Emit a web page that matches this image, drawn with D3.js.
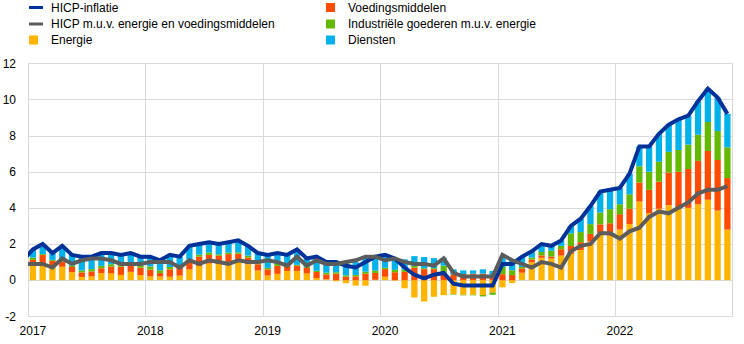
<!DOCTYPE html>
<html>
<head>
<meta charset="utf-8">
<script src="https://cdn.jsdelivr.net/npm/d3@7"></script>
<style>
  body { margin: 0; background: #fff; }
  svg { display: block; font-family: "Liberation Sans", Arial, sans-serif; }
</style>
</head>
<body>
<svg id="chart" width="744" height="344"></svg>
<script>
// Euro area HICP inflation and contributions of its main components
// (annual percentage changes / percentage points), Jan 2017 - Dec 2022.

const years = [2017, 2018, 2019, 2020, 2021, 2022];
const yTicks = [-2, 0, 2, 4, 6, 8, 10, 12];

// Contributions, one value per month
const energie = [
  0.79, 0.90, 0.72, 0.74, 0.44, 0.18, 0.21, 0.39, 0.38, 0.29, 0.46, 0.28,
  0.21, 0.20, 0.19, 0.25, 0.59, 0.78, 0.92, 0.89, 0.92, 1.04, 0.88, 0.53,
  0.26, 0.35, 0.51, 0.51, 0.37, 0.12, 0.05, -0.06, -0.17, -0.30, -0.31, 0.02,
  0.19, -0.03, -0.45, -0.96, -1.18, -0.92, -0.83, -0.77, -0.81, -0.81, -0.82, -0.68,
  -0.40, -0.16, 0.41, 0.99, 1.24, 1.20, 1.36, 1.46, 1.67, 2.15, 2.61, 2.46,
  2.80, 3.10, 4.35, 3.70, 3.95, 4.15, 3.95, 4.00, 4.20, 4.45, 3.85, 2.80
];
const voedingsmiddelen = [
  0.33, 0.49, 0.35, 0.29, 0.29, 0.25, 0.27, 0.27, 0.37, 0.45, 0.43, 0.41,
  0.37, 0.19, 0.41, 0.50, 0.48, 0.52, 0.48, 0.46, 0.52, 0.42, 0.37, 0.35,
  0.34, 0.44, 0.29, 0.29, 0.31, 0.33, 0.27, 0.36, 0.19, 0.21, 0.36, 0.38,
  0.42, 0.44, 0.46, 0.69, 0.61, 0.61, 0.38, 0.32, 0.34, 0.36, 0.36, 0.25,
  0.33, 0.28, 0.24, 0.15, 0.13, 0.11, 0.35, 0.43, 0.43, 0.41, 0.48, 0.69,
  0.85, 0.85, 1.05, 1.30, 1.50, 1.80, 2.05, 2.15, 2.40, 2.70, 2.80, 2.85
];
const industrie = [
  0.13, 0.05, 0.05, 0.08, 0.08, 0.11, 0.13, 0.13, 0.13, 0.11, 0.11, 0.13,
  0.18, 0.16, 0.13, 0.08, 0.08, 0.11, 0.13, 0.08, 0.08, 0.08, 0.11, 0.11,
  0.08, 0.11, 0.05, 0.05, 0.08, 0.07, 0.10, 0.08, 0.08, 0.08, 0.11, 0.13,
  0.08, 0.13, 0.13, 0.10, 0.05, 0.05, 0.42, -0.03, -0.03, -0.03, -0.08, -0.13,
  0.40, 0.27, 0.08, 0.11, 0.19, 0.32, 0.19, 0.70, 0.56, 0.54, 0.65, 0.78,
  0.55, 0.80, 0.90, 1.00, 1.10, 1.15, 1.20, 1.35, 1.45, 1.60, 1.60, 1.70
];
const diensten = [
  0.45, 0.56, 0.38, 0.79, 0.59, 0.76, 0.69, 0.71, 0.62, 0.55, 0.50, 0.48,
  0.54, 0.55, 0.67, 0.47, 0.75, 0.59, 0.57, 0.57, 0.58, 0.66, 0.54, 0.51,
  0.72, 0.60, 0.55, 0.85, 0.44, 0.78, 0.58, 0.62, 0.70, 0.71, 0.84, 0.77,
  0.71, 0.66, 0.56, 0.54, 0.62, 0.56, 0.43, 0.28, 0.20, 0.18, 0.24, 0.26,
  0.57, 0.51, 0.57, 0.35, 0.44, 0.27, 0.30, 0.41, 0.74, 1.00, 1.16, 1.07,
  0.90, 1.15, 1.10, 1.40, 1.55, 1.50, 1.70, 1.60, 1.85, 1.85, 1.85, 1.85
];

// Rates for the two lines; the first value is December 2016
const hicp = [
  1.1,
  1.7, 2.0, 1.5, 1.9, 1.4, 1.3, 1.3, 1.5, 1.5, 1.4, 1.5, 1.3,
  1.3, 1.1, 1.4, 1.3, 1.9, 2.0, 2.1, 2.0, 2.1, 2.2, 1.9, 1.5,
  1.4, 1.5, 1.4, 1.7, 1.2, 1.3, 1.0, 1.0, 0.8, 0.7, 1.0, 1.3,
  1.4, 1.2, 0.7, 0.3, 0.1, 0.3, 0.4, -0.2, -0.3, -0.3, -0.3, -0.3,
  0.9, 0.9, 1.3, 1.6, 2.0, 1.9, 2.2, 3.0, 3.4, 4.1, 4.9, 5.0,
  5.1, 5.9, 7.4, 7.4, 8.1, 8.6, 8.9, 9.1, 9.9, 10.6, 10.1, 9.2
];
const kern = [
  0.9,
  0.9, 0.9, 0.7, 1.2, 0.9, 1.1, 1.2, 1.2, 1.1, 0.9, 0.9, 0.9,
  1.0, 1.0, 1.0, 0.7, 1.1, 0.9, 1.1, 1.0, 0.9, 1.1, 1.0, 1.0,
  1.1, 1.0, 0.8, 1.3, 0.8, 1.1, 0.9, 0.9, 1.0, 1.1, 1.3, 1.3,
  1.1, 1.2, 1.0, 0.9, 0.9, 0.8, 1.2, 0.4, 0.2, 0.2, 0.2, 0.2,
  1.4, 1.1, 0.9, 0.7, 1.0, 0.9, 0.7, 1.6, 1.9, 2.0, 2.6, 2.6,
  2.3, 2.7, 2.9, 3.5, 3.8, 3.7, 4.0, 4.3, 4.8, 5.0, 5.0, 5.2
];

const componentKeys = ["energie", "voedingsmiddelen", "industrie", "diensten"];
const componentColors = {
  energie: "#FFB400",
  voedingsmiddelen: "#FF4B00",
  industrie: "#65B800",
  diensten: "#00B1EA"
};
const lineColors = { hicp: "#003299", kern: "#5C5C5C" };

const nMonths = energie.length;
const table = d3.range(nMonths).map(i => ({
  i,
  energie: energie[i],
  voedingsmiddelen: voedingsmiddelen[i],
  industrie: industrie[i],
  diensten: diensten[i]
}));

const svg = d3.select("#chart");
const plot = { left: 28, right: 732.3, top: 63.3, bottom: 316.3 };

const x = d3.scaleLinear().domain([0, nMonths]).range([plot.left, plot.right]);
const y = d3.scaleLinear().domain([-2, 12]).range([plot.bottom, plot.top]);

// Grid
const grid = svg.append("g").attr("stroke", "#d9d9d9").attr("stroke-width", 1);
grid.selectAll("line.h").data(yTicks).join("line")
  .attr("class", "h")
  .attr("x1", plot.left).attr("x2", plot.right)
  .attr("y1", d => Math.round(y(d)) + 0.5).attr("y2", d => Math.round(y(d)) + 0.5);
grid.selectAll("line.v").data(d3.range(0, nMonths + 1, 12)).join("line")
  .attr("class", "v")
  .attr("x1", d => Math.round(x(d)) + 0.5).attr("x2", d => Math.round(x(d)) + 0.5)
  .attr("y1", plot.top).attr("y2", plot.bottom);

// Y axis labels
svg.append("g").selectAll("text").data(yTicks).join("text")
  .attr("x", 16).attr("y", d => y(d))
  .attr("dy", "0.35em")
  .attr("text-anchor", "end")
  .attr("font-size", 12).attr("fill", "#000")
  .text(d => d);

// X axis labels, one per year at its January
svg.append("g").selectAll("text").data(years).join("text")
  .attr("x", (d, k) => x(k * 12 + 0.5))
  .attr("y", 335)
  .attr("text-anchor", "middle")
  .attr("font-size", 12).attr("fill", "#000")
  .text(d => d);

// Stacked contribution bars
const stack = d3.stack().keys(componentKeys).offset(d3.stackOffsetDiverging);
const series = stack(table);
const barPad = 0.18;
svg.append("g").selectAll("g").data(series).join("g")
  .attr("fill", s => componentColors[s.key])
  .selectAll("rect").data(s => s).join("rect")
  .attr("x", d => x(d.data.i + barPad))
  .attr("width", x(1 - 2 * barPad) - x(0))
  .attr("y", d => y(Math.max(d[0], d[1])))
  .attr("height", d => Math.abs(y(d[0]) - y(d[1])));

// Lines (clipped to the plot so the December 2016 point only sets the entry slope)
svg.append("clipPath").attr("id", "plotClip").append("rect")
  .attr("x", plot.left).attr("y", plot.top - 10)
  .attr("width", plot.right - plot.left + 10).attr("height", plot.bottom - plot.top + 10);

const line = d3.line()
  .x((d, k) => x(k - 1 + 0.5))
  .y(d => y(d));

const lines = svg.append("g").attr("clip-path", "url(#plotClip)");
lines.append("path").datum(hicp)
  .attr("d", line).attr("fill", "none")
  .attr("stroke", lineColors.hicp).attr("stroke-width", 4)
  .attr("stroke-linejoin", "miter");
lines.append("path").datum(kern)
  .attr("d", line).attr("fill", "none")
  .attr("stroke", lineColors.kern).attr("stroke-width", 4)
  .attr("stroke-linejoin", "miter");

// Legend
const legendItems = [
  { label: "HICP-inflatie", type: "line", color: lineColors.hicp, col: 0, row: 0 },
  { label: "HICP m.u.v. energie en voedingsmiddelen", type: "line", color: lineColors.kern, col: 0, row: 1 },
  { label: "Energie", type: "box", color: componentColors.energie, col: 0, row: 2 },
  { label: "Voedingsmiddelen", type: "box", color: componentColors.voedingsmiddelen, col: 1, row: 0 },
  { label: "Industriële goederen m.u.v. energie", type: "box", color: componentColors.industrie, col: 1, row: 1 },
  { label: "Diensten", type: "box", color: componentColors.diensten, col: 1, row: 2 }
];
const colX = [29, 326];
const rowY = [7.5, 24, 40];
const legend = svg.append("g");
const items = legend.selectAll("g").data(legendItems).join("g")
  .attr("transform", d => `translate(${colX[d.col]},${rowY[d.row]})`);
items.filter(d => d.type === "line").append("rect")
  .attr("x", 0).attr("y", -1.5).attr("width", 14).attr("height", 3)
  .attr("fill", d => d.color);
items.filter(d => d.type === "box").append("rect")
  .attr("x", 0).attr("y", -4.5).attr("width", 9).attr("height", 9)
  .attr("fill", d => d.color);
items.append("text")
  .attr("x", 22).attr("dy", "0.35em")
  .attr("font-size", 12).attr("fill", "#000")
  .text(d => d.label);
</script>
</body>
</html>
